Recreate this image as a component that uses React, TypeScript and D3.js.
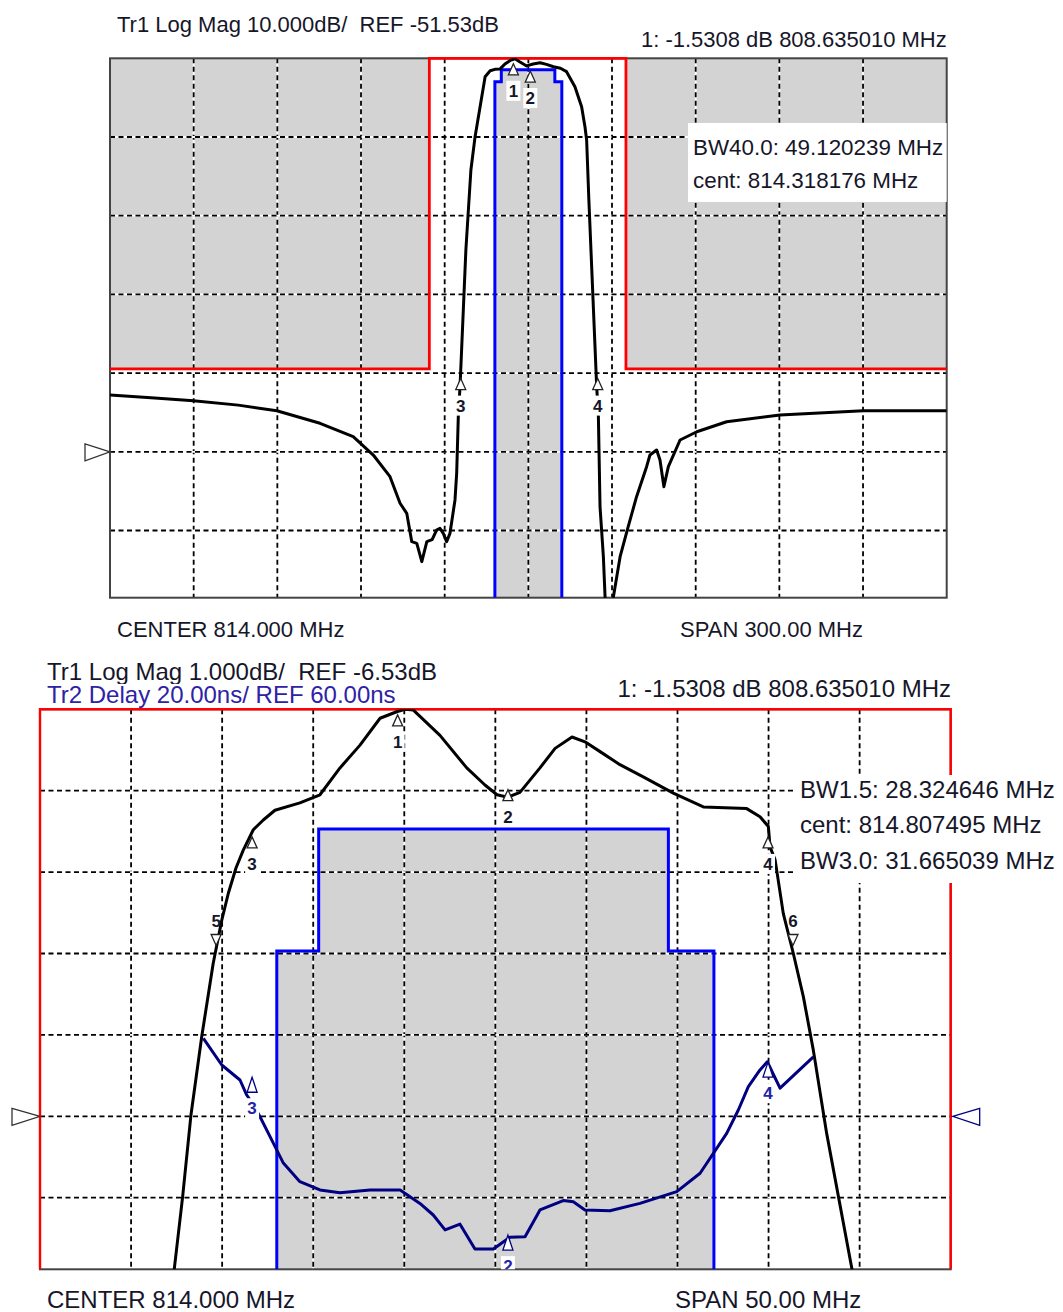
import React from 'react';
import * as d3 from 'd3';

const FONT = "'Liberation Sans', Arial, sans-serif";
const TEXT = '#16162a';
const GRAY = '#d3d3d3';
const NAVY = '#000080';
const MASK_BLUE = '#0000ff';
const TR2_TEXT = '#2e22a6';

// ---------- top chart: Tr1 Log Mag, wide span ----------
const topCenterMHz = 814;
const topSpanMHz = 300;
const topRefDb = -51.53;
const topDbPerDiv = 10;

const topFreqs = [664, 680, 693.9, 710, 723.8, 739.3, 751.2, 758.4, 764.4, 768.0, 770.4, 772.2, 774.0, 775.8, 777.6, 779.5, 781.1, 782.3, 783.5, 784.7, 785.9, 787.7, 788.3, 788.9, 789.5, 791.6, 793.4, 794.9, 796.7, 798.5, 800.3, 802.0, 803.8, 805.6, 807.5, 809.2, 811.0, 813.4, 815.7, 818.2, 820.5, 823.0, 825.5, 827.7, 830.7, 833.1, 834.3, 834.9, 835.7, 837.2, 838.5, 839.1, 839.7, 840.9, 841.5, 842.0, 843.8, 844.5, 846.9, 849.8, 852.8, 856.4, 857.6, 860.0, 861.2, 862.6, 864.2, 868.4, 874.4, 885.1, 904.2, 934.1, 964];
const topMagDb = [-44.31, -44.7, -45.04, -45.6, -46.31, -47.91, -49.61, -51.94, -54.69, -58.07, -59.35, -62.95, -63.16, -65.49, -62.95, -62.7, -61.47, -61.25, -61.89, -62.95, -61.89, -57.65, -54.26, -46.85, -43.26, -25.89, -15.72, -11.49, -7.68, -3.87, -3.11, -2.93, -2.9, -2.25, -1.8, -1.6, -2.0, -2.5, -2.25, -2.09, -2.3, -2.6, -2.8, -3.23, -5.14, -7.68, -10.22, -11.91, -19.54, -32.24, -43.26, -46.85, -58.51, -64.86, -69.94, -74, -74, -69.94, -64.86, -61.05, -57.23, -53.42, -51.94, -51.3, -52.57, -55.96, -53.42, -50.03, -48.98, -47.71, -46.85, -46.31, -46.31];

// ---------- bottom chart: Tr1 Log Mag + Tr2 Delay, narrow span ----------
const botCenterMHz = 814;
const botSpanMHz = 50;
const botRefDb = -6.53;
const botDbPerDiv = 1;
const delayRefNs = 60;
const delayNsPerDiv = 20;

const botFreqs = [796.1, 796.37, 796.83, 797.29, 797.88, 798.51, 798.98, 799.34, 799.76, 800.16, 800.71, 801.26, 801.9, 803.27, 804.37, 805.47, 806.57, 807.67, 808.58, 809.04, 809.5, 810.96, 812.43, 813.43, 814.09, 814.69, 815.35, 816.45, 817.28, 818.21, 818.92, 819.75, 820.84, 822.12, 823.77, 825.42, 827.8, 828.53, 828.99, 829.08, 829.36, 829.81, 830.36, 830.91, 831.46, 832.19, 833.58, 833.8];
const botMagDb = [-8.9, -8.41, -7.52, -6.51, -5.55, -4.65, -4.12, -3.79, -3.48, -3.26, -3.01, -2.89, -2.77, -2.68, -2.58, -2.25, -1.97, -1.64, -1.56, -1.53, -1.54, -1.85, -2.25, -2.46, -2.58, -2.61, -2.55, -2.25, -2.01, -1.87, -1.93, -2.05, -2.21, -2.36, -2.56, -2.73, -2.75, -2.85, -2.97, -3.22, -3.38, -4.04, -4.53, -5.06, -5.72, -6.74, -8.41, -8.8];

const delayFreqs = [797.97, 798.98, 799.98, 800.35, 800.69, 801.08, 801.81, 802.36, 803.27, 804.37, 805.47, 807.12, 808.77, 809.86, 810.59, 811.24, 812.06, 812.88, 813.89, 814.8, 815.63, 816.45, 817.73, 818.28, 818.92, 820.29, 821.94, 823.96, 825.24, 826.7, 827.34, 827.89, 828.53, 828.93, 829.63, 831.46];
const delayNs = [79.17, 72.61, 68.92, 65.23, 63.02, 59.9, 53.4, 48.5, 43.93, 41.9, 41.2, 41.9, 41.9, 38.6, 35.75, 32.1, 33.5, 27.4, 27.4, 30.3, 30.4, 37.0, 39.3, 39.0, 37.0, 36.8, 38.6, 41.5, 46.0, 55.8, 61.55, 67.3, 71.4, 73.4, 66.9, 74.6];

// ---------- limit lines ----------
const upperLimitFreqs = [664, 778.5, 778.5, 849, 849, 964];
const upperLimitDb = [-41, -41, 0, 0, -41, -41];
const lowerLimitFreqs = [802, 802, 804.3, 804.3, 823.5, 823.5, 826, 826];
const lowerLimitDb = [-100, -4.5, -4.5, -3, -3, -4.5, -4.5, -100];

// ---------- markers ----------
const topMarkerIds = ['1', '2', '3', '4'];
const topMarkerFreqs = [808.635, 814.69, 789.758, 838.878];
const topMarkerDb = [-1.5308, -2.45, -41.53, -41.53];

const botMarkerIds = ['1', '2', '3', '4', '5', '6'];
const botMarkerFreqs = [808.635, 814.69, 800.645, 828.97, 798.67, 830.34];
const botMarkerDb = [-1.5308, -2.45, -3.03, -3.03, -4.53, -4.53];
const botMarkerDown = [false, false, false, false, true, true];

const delayMarkerIds = ['3', '2', '4'];
const delayMarkerFreqs = [800.645, 814.69, 828.97];
const delayMarkerNs = [69.6, 30.8, 73.3];

// ---------- text ----------
const topHeader = 'Tr1 Log Mag 10.000dB/  REF -51.53dB';
const markerReadout = '1: -1.5308 dB 808.635010 MHz';
const topBwLines = ['BW40.0: 49.120239 MHz', 'cent: 814.318176 MHz'];
const topFooterLeft = 'CENTER 814.000 MHz';
const topFooterRight = 'SPAN 300.00 MHz';
const botHeader1 = 'Tr1 Log Mag 1.000dB/  REF -6.53dB';
const botHeader2 = 'Tr2 Delay 20.00ns/ REF 60.00ns';
const botBwLines = ['BW1.5: 28.324646 MHz', 'cent: 814.807495 MHz', 'BW3.0: 31.665039 MHz'];
const botFooterLeft = 'CENTER 814.000 MHz';
const botFooterRight = 'SPAN 50.00 MHz';

type Geo = { x0: number; x1: number; y0: number; y1: number; divPx: number };

function makeY(g: Geo, ref: number, perDiv: number) {
  const top = ref + 5 * perDiv;
  const bottom = ref - ((g.y1 - g.y0 - 5 * g.divPx) / g.divPx) * perDiv;
  return d3.scaleLinear().domain([bottom, top]).range([g.y1, g.y0]);
}

function zip(a: number[], b: number[]): [number, number][] {
  return a.map((v, i) => [v, b[i]] as [number, number]);
}

function Grid({ g, x, y, center, span, refVal, perDiv }: any) {
  const xs = d3.range(1, 10).map((k) => center - span / 2 + (k * span) / 10);
  const [dMin, dMax] = y.domain();
  const ys = d3.range(-4, 6).map((k) => refVal + k * perDiv).filter((v) => v > dMin + 1e-6 && v < dMax - 1e-6);
  const lines: any[] = [];
  xs.forEach((f, i) => {
    const px = x(f);
    lines.push(<line key={'vw' + i} x1={px} x2={px} y1={g.y0} y2={g.y1} stroke="#fff" strokeWidth={1.8} />);
    lines.push(<line key={'vb' + i} x1={px} x2={px} y1={g.y0} y2={g.y1} stroke="#000" strokeWidth={1.8} strokeDasharray="5,3.5" />);
  });
  ys.forEach((v, i) => {
    const py = y(v);
    lines.push(<line key={'hw' + i} x1={g.x0} x2={g.x1} y1={py} y2={py} stroke="#fff" strokeWidth={1.8} />);
    lines.push(<line key={'hb' + i} x1={g.x0} x2={g.x1} y1={py} y2={py} stroke="#000" strokeWidth={1.8} strokeDasharray="5,3.5" />);
  });
  return <g>{lines}</g>;
}

function UpMarker({ x, y, id, color, textColor }: any) {
  const ya = y;
  return (
    <g>
      <path d={`M${x},${ya} L${x - 5},${ya + 11} L${x + 5},${ya + 11} Z`} fill="#fff" stroke={color} strokeWidth={1.3} />
      <rect x={x - 7} y={ya + 17} width={14} height={20} fill="#fff" />
      <text x={x} y={ya + 33} textAnchor="middle" fontFamily={FONT} fontSize={17} fontWeight="bold" fill={textColor}>{id}</text>
    </g>
  );
}

function DownMarker({ x, y, id }: any) {
  return (
    <g>
      <path d={`M${x},${y - 8} L${x - 5},${y - 19} L${x + 5},${y - 19} Z`} fill="#fff" stroke="#222" strokeWidth={1.3} />
      <text x={x} y={y - 27} textAnchor="middle" fontFamily={FONT} fontSize={17} fontWeight="bold" fill={TEXT}>{id}</text>
    </g>
  );
}

function Label({ x, y, children, anchor = 'start', color = TEXT, size = 22 }: any) {
  return (
    <text x={x} y={y} textAnchor={anchor} fontFamily={FONT} fontSize={size} fill={color} style={{ whiteSpace: 'pre' }}>
      {children}
    </text>
  );
}

export default function App() {
  // ---- top panel geometry & scales ----
  const gt: Geo = { x0: 110, x1: 946.7, y0: 58.3, y1: 597.7, divPx: 78.7 };
  const xt = d3.scaleLinear().domain([topCenterMHz - topSpanMHz / 2, topCenterMHz + topSpanMHz / 2]).range([gt.x0, gt.x1]);
  const yt = makeY(gt, topRefDb, topDbPerDiv);
  const xtc = xt.copy().clamp(true);
  const ytc = yt.copy().clamp(true);

  // ---- bottom panel ----
  const gb: Geo = { x0: 40, x1: 950.7, y0: 709.3, y1: 1269.3, divPx: 81.4 };
  const xb = d3.scaleLinear().domain([botCenterMHz - botSpanMHz / 2, botCenterMHz + botSpanMHz / 2]).range([gb.x0, gb.x1]);
  const yb = makeY(gb, botRefDb, botDbPerDiv);
  const yd = makeY(gb, delayRefNs, delayNsPerDiv);
  const xbc = xb.copy().clamp(true);
  const ybc = yb.copy().clamp(true);

  const lineGen = (xs: any, ys: any) => d3.line<[number, number]>().x((d) => xs(d[0])).y((d) => ys(d[1]));

  const upper = zip(upperLimitFreqs, upperLimitDb);
  const lower = zip(lowerLimitFreqs, lowerLimitDb);

  const upperAreaT = d3.area<[number, number]>().x((d) => xtc(d[0])).y0(gt.y0).y1((d) => ytc(d[1]))(upper) || '';
  const lowerAreaT = d3.area<[number, number]>().x((d) => xtc(d[0])).y0(gt.y1).y1((d) => ytc(d[1]))(lower) || '';
  const lowerAreaB = d3.area<[number, number]>().x((d) => xbc(d[0])).y0(gb.y1).y1((d) => ybc(d[1]))(lower) || '';
  const upperAreaB = d3.area<[number, number]>().x((d) => xbc(d[0])).y0(gb.y0).y1((d) => ybc(d[1]))(upper) || '';

  const topTrace = lineGen(xt, yt)(zip(topFreqs, topMagDb)) || '';
  const botTrace = lineGen(xb, yb)(zip(botFreqs, botMagDb)) || '';
  const delayTrace = lineGen(xb, yd)(zip(delayFreqs, delayNs)) || '';

  const upperLineT = lineGen(xtc, ytc)(upper) || '';
  const lowerLineT = lineGen(xtc, ytc)(lower) || '';
  const upperLineB = lineGen(xbc, ybc)(upper) || '';
  const lowerLineB = lineGen(xbc, ybc)(lower) || '';

  const refYT = yt(topRefDb);
  const refYB = yb(botRefDb);
  const refYD = yd(delayRefNs);

  return (
    <svg width={1063} height={1312} style={{ position: 'absolute', left: 0, top: 0, background: '#fff' }}>
      <defs>
        <clipPath id="clipT"><rect x={gt.x0} y={gt.y0} width={gt.x1 - gt.x0} height={gt.y1 - gt.y0} /></clipPath>
        <clipPath id="clipB"><rect x={gb.x0} y={gb.y0} width={gb.x1 - gb.x0} height={gb.y1 - gb.y0} /></clipPath>
      </defs>
      <rect x={0} y={0} width={1063} height={1312} fill="#fff" />

      {/* ================= TOP CHART ================= */}
      <path d={upperAreaT} fill={GRAY} />
      <path d={lowerAreaT} fill={GRAY} />
      <Grid g={gt} x={xt} y={yt} center={topCenterMHz} span={topSpanMHz} refVal={topRefDb} perDiv={topDbPerDiv} />
      <rect x={gt.x0} y={gt.y0} width={gt.x1 - gt.x0} height={gt.y1 - gt.y0} fill="none" stroke="#444" strokeWidth={2} />
      <path d={upperLineT} fill="none" stroke="#ff0000" strokeWidth={2.8} />
      <path d={lowerLineT} fill="none" stroke={MASK_BLUE} strokeWidth={3} clipPath="url(#clipT)" />
      <path d={topTrace} fill="none" stroke="#000" strokeWidth={3} strokeLinejoin="round" clipPath="url(#clipT)" />
      {topMarkerIds.map((id, i) => (
        <UpMarker key={'tm' + id} x={xt(topMarkerFreqs[i])} y={yt(topMarkerDb[i]) + 5.5} id={id} color="#222" textColor={TEXT} />
      ))}
      <path d={`M${gt.x0},${refYT} L${gt.x0 - 25},${refYT - 8} L${gt.x0 - 25},${refYT + 9} Z`} fill="#fff" stroke="#333" strokeWidth={1.3} />
      <rect x={688} y={123} width={gt.x1 - 688} height={79} fill="#fff" />
      {topBwLines.map((t, i) => (
        <Label key={'tbw' + i} x={693} y={155 + i * 33} size={22.4}>{t}</Label>
      ))}
      <Label x={117} y={32}>{topHeader}</Label>
      <Label x={946.7} y={47} anchor="end">{markerReadout}</Label>
      <Label x={117} y={637}>{topFooterLeft}</Label>
      <Label x={680} y={637}>{topFooterRight}</Label>

      {/* ================= BOTTOM CHART ================= */}
      <path d={upperAreaB} fill={GRAY} />
      <path d={lowerAreaB} fill={GRAY} />
      <Grid g={gb} x={xb} y={yb} center={botCenterMHz} span={botSpanMHz} refVal={botRefDb} perDiv={botDbPerDiv} />
      <rect x={gb.x0} y={gb.y0} width={gb.x1 - gb.x0} height={gb.y1 - gb.y0} fill="none" stroke="#444" strokeWidth={2} />
      <path d={upperLineB} fill="none" stroke="#ff0000" strokeWidth={2.4} />
      <path d={lowerLineB} fill="none" stroke={MASK_BLUE} strokeWidth={3} clipPath="url(#clipB)" />
      <path d={botTrace} fill="none" stroke="#000" strokeWidth={3} strokeLinejoin="round" clipPath="url(#clipB)" />
      <path d={delayTrace} fill="none" stroke={NAVY} strokeWidth={3} strokeLinejoin="round" clipPath="url(#clipB)" />
      {botMarkerIds.map((id, i) =>
        botMarkerDown[i] ? (
          <DownMarker key={'bm' + id} x={xb(botMarkerFreqs[i])} y={yb(botMarkerDb[i])} id={id} />
        ) : (
          <UpMarker key={'bm' + id} x={xb(botMarkerFreqs[i])} y={yb(botMarkerDb[i]) + 5.5} id={id} color="#222" textColor={TEXT} />
        )
      )}
      {delayMarkerIds.map((id, i) => {
        const x = xb(delayMarkerFreqs[i]);
        const ya = yd(delayMarkerNs[i]);
        return (
          <g key={'dm' + id}>
            <path d={`M${x},${ya} L${x - 5},${ya + 15} L${x + 5},${ya + 15} Z`} fill="#fff" stroke={NAVY} strokeWidth={1.3} />
            <rect x={x - 7} y={ya + 21} width={14} height={20} fill="#fff" clipPath="url(#clipB)" />
            <text x={x} y={ya + 37} textAnchor="middle" fontFamily={FONT} fontSize={17} fontWeight="bold" fill="#2424a8" clipPath="url(#clipB)">{id}</text>
          </g>
        );
      })}
      <path d={`M${gb.x0},${refYB} L${gb.x0 - 28},${refYB - 8} L${gb.x0 - 28},${refYB + 9} Z`} fill="#fff" stroke="#333" strokeWidth={1.3} />
      <path d={`M${gb.x1 + 2},${refYD} L${gb.x1 + 29},${refYD - 8} L${gb.x1 + 29},${refYD + 9} Z`} fill="#fff" stroke={NAVY} strokeWidth={1.3} />
      <rect x={795} y={775} width={1063 - 795} height={108} fill="#fff" />
      {botBwLines.map((t, i) => (
        <Label key={'bbw' + i} x={800} y={798 + i * 35.3} size={24}>{t}</Label>
      ))}
      <Label x={47} y={680} size={24}>{botHeader1}</Label>
      <rect x={44} y={684} width={356} height={23} fill="#fff" />
      <Label x={47} y={703} color={TR2_TEXT} size={24}>{botHeader2}</Label>
      <Label x={951} y={697} anchor="end" size={24}>{markerReadout}</Label>
      <Label x={47} y={1308} size={24}>{botFooterLeft}</Label>
      <Label x={675} y={1308} size={24}>{botFooterRight}</Label>
    </svg>
  );
}
